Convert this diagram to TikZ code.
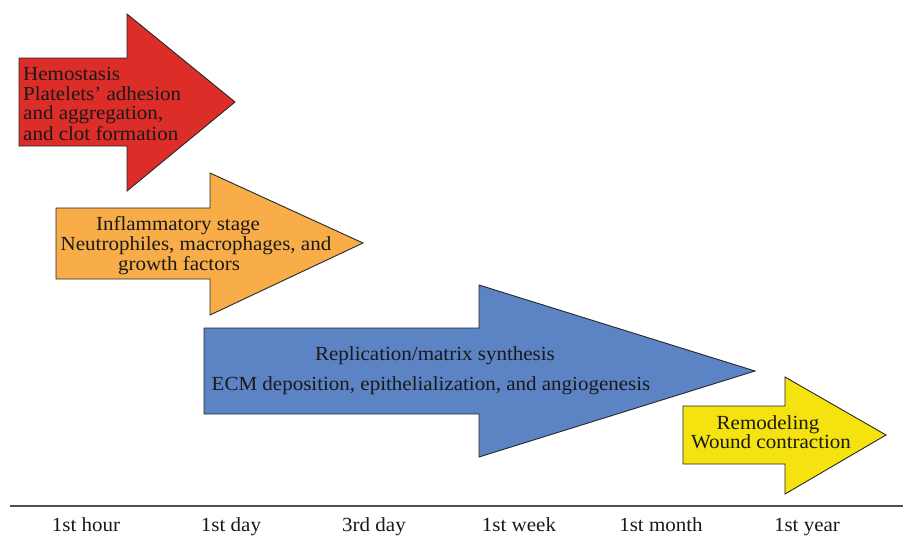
\documentclass[tikz,border=0pt]{standalone}
\usepackage{fontspec}
\setmainfont{Liberation Serif}[FakeStretch=1.05]
\definecolor{cred}{RGB}{220,45,40}
\definecolor{corange}{RGB}{248,173,72}
\definecolor{cblue}{RGB}{92,131,196}
\definecolor{cyellow}{RGB}{245,227,15}
\definecolor{cedge}{RGB}{40,40,40}
\definecolor{caxis}{RGB}{80,80,80}
\begin{document}
\begin{tikzpicture}[x=1pt,y=-1pt,
  stagearrow/.style={draw=cedge,line width=0.9pt,line join=miter},
  txt/.style={font=\fontsize{20}{20}\selectfont,inner sep=0pt,text=black!90},
  lbl/.style={font=\fontsize{20}{20}\selectfont,inner sep=0pt,anchor=base,text=black!90}]
\useasboundingbox (0,0) rectangle (903,536);
% red arrow
\draw[stagearrow,fill=cred] (19,58) -- (127,58) -- (127,14) -- (235,102) -- (127,191) -- (127,146) -- (19,146) -- cycle;
\node[txt,anchor=base west] (r1) at (23,80) {Hemostasis};
\node[txt,anchor=base west] (r2) at (23,100) {Platelets’ adhesion};
\node[txt,anchor=base west] (r3) at (23,119) {and aggregation,};
\node[txt,anchor=base west] (r4) at (23,140) {and clot formation};
% orange arrow
\draw[stagearrow,fill=corange] (56,208) -- (210,208) -- (210,173) -- (363,243) -- (210,315) -- (210,279) -- (56,279) -- cycle;
\node[txt,anchor=base] (o1) at (178,230) {Inflammatory stage};
\node[txt,anchor=base] (o2) at (196,250) {Neutrophiles, macrophages, and};
\node[txt,anchor=base] (o3) at (179,270) {growth factors};
% blue arrow
\draw[stagearrow,fill=cblue] (204,328) -- (479,328) -- (479,285) -- (755,371) -- (479,457) -- (479,414) -- (204,414) -- cycle;
\node[txt,anchor=base] (b1) at (435,360) {Replication/matrix synthesis};
\node[txt,anchor=base] (b2) at (431,390) {ECM deposition, epithelialization, and angiogenesis};
% yellow arrow
\draw[stagearrow,fill=cyellow] (683,406) -- (785,406) -- (785,377) -- (886,435) -- (785,494) -- (785,464) -- (683,464) -- cycle;
\node[txt,anchor=base] (y1) at (768,429) {Remodeling};
\node[txt,anchor=base] (y2) at (771,448) {Wound contraction};
% axis
\coordinate (axl) at (10,506);
\coordinate (axr) at (903,506);
\draw[caxis,line width=1.8pt] (axl) -- (axr);
\node[lbl] (t1) at (86,531) {1st hour};
\node[lbl] (t2) at (231,531) {1st day};
\node[lbl] (t3) at (374,531) {3rd day};
\node[lbl] (t4) at (519,531) {1st week};
\node[lbl] (t5) at (661,531) {1st month};
\node[lbl] (t6) at (807,531) {1st year};
\end{tikzpicture}
\end{document}
